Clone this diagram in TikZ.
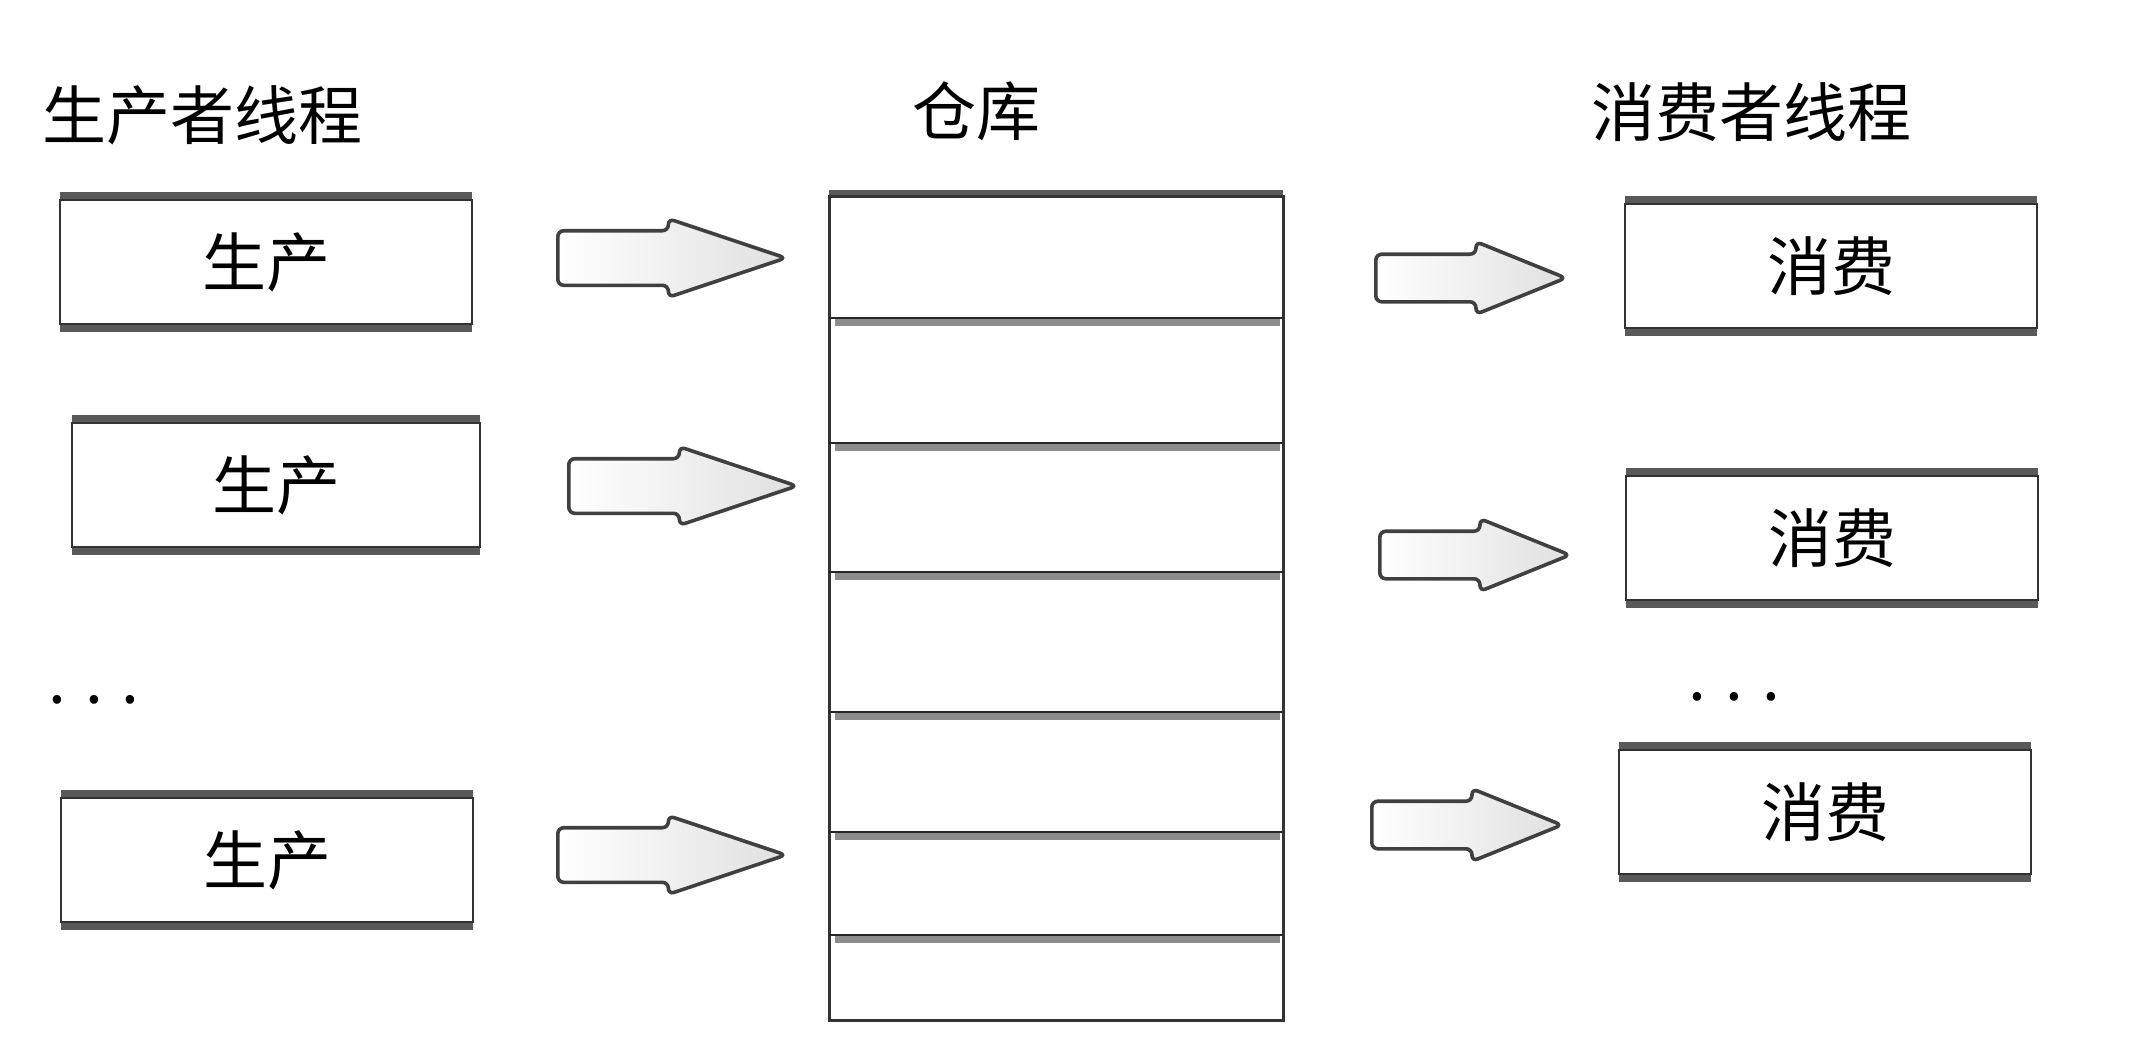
\documentclass[tikz,border=0pt]{standalone}
\usepackage{fontspec}
\newfontfamily\cjk{Noto Sans CJK SC}
\usetikzlibrary{shapes.arrows,shadows}
\begin{document}
\begin{tikzpicture}[x=0.5pt,y=-0.5pt,
  every node/.style={font=\cjk\fontsize{32}{38}\selectfont,inner sep=0pt},
  thread/.style={draw=black!80,line width=1.2pt,fill=white,minimum width=206pt,minimum height=62pt,
    general shadow={fill=black!65,shadow yshift=4pt},
    general shadow={fill=black!65,shadow yshift=-4pt}},
  bigarrow/.style={single arrow,anchor=tail,draw=black!75,line width=1.8pt,left color=white,right color=black!12,
    minimum height=114pt,inner ysep=12.75pt,single arrow head extend=6pt,
    single arrow tip angle=37,rounded corners=3pt},
  smallarrow/.style={bigarrow,minimum height=95pt,inner ysep=11pt,single arrow head extend=6.25pt,
    single arrow tip angle=44}]
\useasboundingbox (0,0) rectangle (2139,1060);
\node (ptitle) at (202,115) {生产者线程};
\node (stitle) at (976,111) {仓库};
\node (ctitle) at (1751,112) {消费者线程};
\node[thread] (p1) at (266,262) {生产};
\node[thread,minimum width=204pt] (p2) at (276,485) {生产};
\node (pdots) at (94,700) {. . .};
\node[thread] (p3) at (267,860) {生产};
\node[draw=black!80,fill=white,line width=1.5pt,minimum width=227pt,minimum height=412pt,
  general shadow={fill=black!65,shadow yshift=3pt}] (store) at (1056,608) {};
\foreach \y in {318,443,572,712,832,935} {
  \draw[black!45,line width=4pt] (835,\y+4) -- (1280,\y+4);
  \draw[black!85,line width=1.2pt] (829,\y) -- (1283,\y);
}
\node[thread] (c1) at (1831,266) {消费};
\node[thread] (c2) at (1832,538) {消费};
\node (cdots) at (1734,697) {. . .};
\node[thread] (c3) at (1825,812) {消费};
\node[bigarrow] (ap1) at (556,258) {};
\node[bigarrow] (ap2) at (567,486) {};
\node[bigarrow] (ap3) at (556,855) {};
\node[smallarrow] (ac1) at (1374,278) {};
\node[smallarrow] (ac2) at (1378,555) {};
\node[smallarrow] (ac3) at (1370,825) {};
\end{tikzpicture}
\end{document}
